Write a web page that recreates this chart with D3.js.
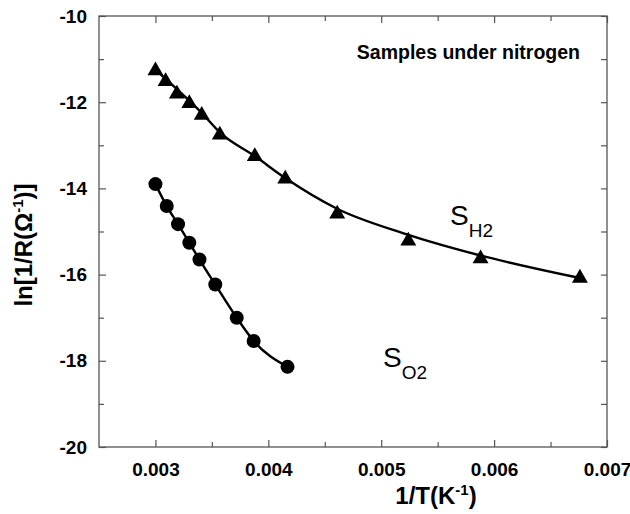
<!DOCTYPE html>
<html>
<head>
<meta charset="utf-8">
<script src="https://cdn.jsdelivr.net/npm/d3@7"></script>
<style>
  body { margin: 0; background: #fff; }
  svg { display: block; font-family: "Liberation Sans", Arial, sans-serif; }
</style>
</head>
<body>
<div id="chart"></div>
<script>
// Data
// ================================
// S_H2 samples (triangles)
var invT_H2 = [0.00300, 0.00309, 0.00319, 0.00330, 0.00341, 0.00357, 0.00388, 0.00415, 0.00461, 0.00524, 0.00588, 0.00676];
var lnG_H2 = [-11.27, -11.52, -11.81, -12.03, -12.30, -12.76, -13.26, -13.78, -14.59, -15.22, -15.63, -16.08];

// fitted curve through S_H2
var fitX_H2 = [0.00300, 0.00341, 0.00357, 0.00388, 0.00415, 0.00460, 0.00522, 0.00587, 0.00676];
var fitY_H2 = [-11.25, -12.25, -12.70, -13.25, -13.76, -14.46, -15.06, -15.55, -16.08];

// S_O2 samples (circles)
var invT_O2 = [0.00300, 0.00310, 0.00320, 0.00330, 0.00339, 0.00353, 0.00372, 0.00387, 0.00417];
var lnG_O2 = [-13.90, -14.41, -14.83, -15.26, -15.65, -16.23, -17.00, -17.54, -18.14];

// ticks
var xMajor = [0.003, 0.004, 0.005, 0.006, 0.007];
var xMinor = [0.0035, 0.0045, 0.0055, 0.0065];
var yMajor = [-20, -18, -16, -14, -12, -10];
var yMinor = [-19, -17, -15, -13, -11];

// Set up the chart
// ================================
var svgWidth = 630;
var svgHeight = 514;

var margin = { top: 16, right: 23, bottom: 67, left: 99 };
var width = svgWidth - margin.left - margin.right;
var height = svgHeight - margin.top - margin.bottom;

var svg = d3.select("#chart")
  .append("svg")
  .attr("width", svgWidth)
  .attr("height", svgHeight);

var chartGroup = svg.append("g")
  .attr("transform", `translate(${margin.left}, ${margin.top})`);

var xScale = d3.scaleLinear().domain([0.0025, 0.007]).range([0, width]);
var yScale = d3.scaleLinear().domain([-20, -10]).range([height, 0]);

// axes, ticks pointing inward
function styleAxis(g) {
  g.select(".domain").remove();
  g.selectAll(".tick line").attr("stroke", "#555").attr("stroke-width", 1.2);
  g.selectAll(".tick text")
    .attr("font-size", "19px")
    .attr("font-weight", "bold")
    .attr("fill", "#000");
}

chartGroup.append("g")
  .attr("transform", `translate(0, ${height})`)
  .call(d3.axisBottom(xScale).tickValues(xMajor).tickSize(-7).tickPadding(12).tickFormat(d => d.toFixed(3)))
  .call(styleAxis)
  .selectAll(".tick text").attr("dy", "0.9em");

chartGroup.append("g")
  .attr("transform", `translate(0, ${height})`)
  .call(d3.axisBottom(xScale).tickValues(xMinor).tickSize(-5).tickFormat(""))
  .call(styleAxis);

chartGroup.append("g")
  .call(d3.axisTop(xScale).tickValues(xMajor).tickSize(-7).tickFormat(""))
  .call(styleAxis);

chartGroup.append("g")
  .call(d3.axisTop(xScale).tickValues(xMinor).tickSize(-5).tickFormat(""))
  .call(styleAxis);

chartGroup.append("g")
  .call(d3.axisLeft(yScale).tickValues(yMajor).tickSize(-7).tickPadding(12).tickFormat(d => String(d)))
  .call(styleAxis);

chartGroup.append("g")
  .call(d3.axisLeft(yScale).tickValues(yMinor).tickSize(-5).tickFormat(""))
  .call(styleAxis);

chartGroup.append("g")
  .attr("transform", `translate(${width}, 0)`)
  .call(d3.axisRight(yScale).tickValues(yMajor.concat(yMinor)).tickSize(-6).tickFormat(""))
  .call(styleAxis);

// frame
chartGroup.append("rect")
  .attr("width", width)
  .attr("height", height)
  .attr("fill", "none")
  .attr("stroke", "#555")
  .attr("stroke-width", 1.3);

// lines
var fitLine = d3.line()
  .x(d => xScale(d[0]))
  .y(d => yScale(d[1]))
  .curve(d3.curveMonotoneX);

chartGroup.append("path")
  .datum(d3.zip(fitX_H2, fitY_H2))
  .attr("d", fitLine)
  .attr("fill", "none")
  .attr("stroke", "#000")
  .attr("stroke-width", 2.4);

chartGroup.append("path")
  .datum(d3.zip(invT_O2, lnG_O2))
  .attr("d", fitLine)
  .attr("fill", "none")
  .attr("stroke", "#000")
  .attr("stroke-width", 2.4);

// markers
chartGroup.selectAll(".tri")
  .data(d3.zip(invT_H2, lnG_H2))
  .enter()
  .append("path")
  .classed("tri", true)
  .attr("d", d3.symbol().type(d3.symbolTriangle).size(110))
  .attr("transform", d => `translate(${xScale(d[0])}, ${yScale(d[1])})`)
  .attr("fill", "#000");

chartGroup.selectAll(".dot")
  .data(d3.zip(invT_O2, lnG_O2))
  .enter()
  .append("circle")
  .classed("dot", true)
  .attr("cx", d => xScale(d[0]))
  .attr("cy", d => yScale(d[1]))
  .attr("r", 7)
  .attr("fill", "#000");

// annotations
svg.append("text")
  .attr("x", 580)
  .attr("y", 59)
  .attr("text-anchor", "end")
  .attr("font-size", "19.5px")
  .attr("font-weight", "bold")
  .text("Samples under nitrogen");

var labH2 = svg.append("text")
  .attr("x", 450)
  .attr("y", 225)
  .attr("font-size", "28px");
labH2.append("tspan").text("S");
labH2.append("tspan").attr("dy", 12).attr("font-size", "19px").text("H2");

var labO2 = svg.append("text")
  .attr("x", 383)
  .attr("y", 367)
  .attr("font-size", "28px");
labO2.append("tspan").text("S");
labO2.append("tspan").attr("dy", 12).attr("font-size", "19px").text("O2");

// axis titles
var xTitle = svg.append("text")
  .attr("x", 436)
  .attr("y", 504)
  .attr("text-anchor", "middle")
  .attr("font-size", "24px")
  .attr("font-weight", "bold");
xTitle.append("tspan").text("1/T(K");
xTitle.append("tspan").attr("dy", -9).attr("font-size", "15px").text("-1");
xTitle.append("tspan").attr("dy", 9).text(")");

var yTitle = svg.append("text")
  .attr("transform", "translate(32, 245) rotate(-90)")
  .attr("text-anchor", "middle")
  .attr("font-size", "24px")
  .attr("font-weight", "bold");
yTitle.append("tspan").text("ln[1/R(Ω");
yTitle.append("tspan").attr("dy", -9).attr("font-size", "15px").text("-1");
yTitle.append("tspan").attr("dy", 9).text(")]");
</script>
</body>
</html>
